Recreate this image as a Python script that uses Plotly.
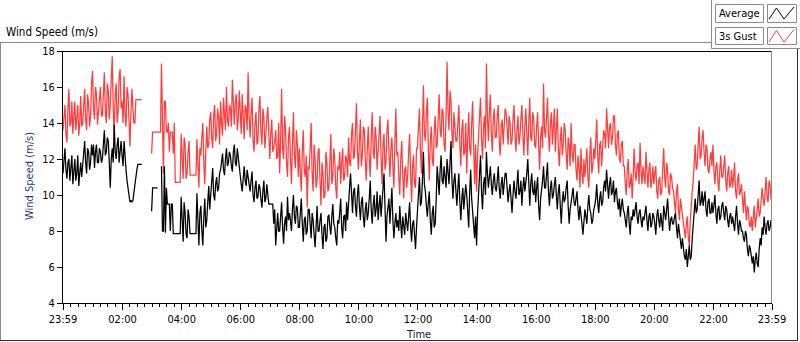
import pandas as pd
import plotly.graph_objects as go

# ---------------- data (2-minute samples) ----------------
start_time = "2013-01-01 23:59"
sample_minutes = 2

gust_values = [
    13.6, 14.6, 15.0, 13.4, 12.9, 14.8, 15.9, 13.8, 14.0, 15.2,
    13.4, 14.4, 15.2, 13.6, 14.2, 15.0, 13.3, 14.0, 15.5, 13.8,
    14.0, 15.2, 15.9, 14.2, 13.6, 15.6, 15.0, 13.8, 14.4, 16.2,
    16.9, 14.8, 14.2, 16.0, 15.6, 13.9, 14.6, 15.4, 16.0, 14.4,
    14.4, 15.6, 16.8, 14.6, 14.0, 16.2, 15.8, 14.2, 15.0, 16.4,
    17.7, 14.8, 13.3, 15.6, 16.2, 14.0, 14.6, 16.6, 17.0, 14.8,
    15.2, 14.0, 16.6, 14.4, 13.8, 16.0, 15.6, 14.2, 12.7, 14.6,
    15.9, 14.8, 14.0, 14.0, 15.3, 15.3, 15.3, 15.3, 15.3, 15.3,
    15.3, None, None, None, None, None, None, None, None, None,
    12.3, 13.5, 13.5, 13.5, 13.5, 13.5, 13.5, 13.5, 13.5, 13.5,
    17.3, 13.0, 11.2, 15.2, 15.2, 13.5, 13.5, 14.0, 12.4, 13.5,
    13.5, 13.5, 12.3, 14.0, 10.7, 10.7, 10.7, 10.7, 10.7, 10.7,
    13.4, 12.0, 10.9, 13.2, 12.8, 10.9, 11.2, 12.4, 13.0, 11.1,
    11.1, 11.1, 11.1, 11.1, 11.1, 11.1, 13.1, 11.8, 10.4, 12.6,
    12.2, 13.2, 14.0, 11.8, 10.6, 12.4, 13.8, 12.6, 12.8, 14.2,
    14.6, 13.2, 12.6, 14.4, 15.0, 13.0, 13.4, 14.8, 14.3, 12.8,
    15.2, 14.0, 13.3, 15.4, 14.6, 13.6, 16.0, 14.2, 13.8, 15.0,
    14.8, 13.8, 16.4, 14.6, 13.9, 15.2, 15.6, 13.6, 14.2, 15.8,
    14.2, 13.4, 15.6, 14.0, 13.1, 15.0, 14.8, 13.6, 16.8, 14.4,
    13.2, 14.6, 15.4, 13.0, 12.4, 14.0, 14.6, 12.8, 13.0, 14.8,
    15.5, 13.6, 12.8, 14.8, 14.3, 12.6, 13.2, 14.2, 14.9, 13.0,
    12.0, 13.4, 14.2, 12.4, 12.6, 13.0, 13.6, 12.0, 12.2, 14.0,
    11.2, 13.0, 15.9, 12.6, 12.0, 14.4, 13.7, 11.8, 11.0, 13.2,
    13.8, 12.0, 10.6, 12.8, 14.6, 12.2, 11.5, 13.6, 12.8, 11.0,
    12.6, 11.2, 10.2, 12.4, 13.6, 11.4, 11.0, 12.2, 9.3, 11.6,
    11.4, 12.6, 14.0, 11.2, 10.2, 12.8, 12.0, 10.4, 10.8, 12.4,
    12.6, 10.8, 9.4, 11.8, 11.2, 9.8, 10.0, 12.4, 11.8, 10.2,
    10.4, 11.8, 13.4, 10.6, 11.0, 12.6, 12.0, 10.4, 9.8, 11.6,
    11.4, 12.4, 10.6, 11.8, 12.6, 10.8, 11.0, 12.2, 12.0, 11.0,
    13.2, 11.8, 11.6, 13.4, 14.0, 12.0, 12.2, 13.6, 15.1, 12.4,
    11.4, 13.0, 14.2, 11.6, 12.2, 13.8, 13.6, 11.8, 10.8, 12.6,
    13.8, 12.0, 11.0, 13.2, 14.6, 12.4, 12.0, 13.8, 13.2, 11.4,
    12.2, 13.4, 14.4, 12.0, 10.6, 12.8, 13.4, 11.4, 11.8, 13.6,
    14.2, 12.4, 11.0, 12.6, 13.2, 11.6, 10.4, 12.8, 14.8, 12.2,
    12.4, 11.0, 10.0, 12.0, 13.0, 11.2, 9.8, 11.4, 11.6, 10.4,
    11.0, 12.4, 13.4, 11.2, 9.6, 11.6, 12.2, 10.6, 10.4, 12.6,
    12.6, 13.8, 14.8, 12.4, 11.2, 13.6, 16.1, 13.4, 13.0, 14.6,
    15.4, 12.6, 10.8, 13.0, 13.8, 12.0, 11.6, 13.6, 14.4, 12.6,
    12.8, 14.2, 15.6, 13.6, 13.2, 14.8, 14.6, 12.8, 12.4, 14.4,
    17.4, 14.6, 13.6, 15.8, 15.2, 13.4, 12.6, 14.6, 14.0, 13.0,
    13.0, 14.4, 15.0, 12.8, 11.6, 13.6, 14.2, 12.2, 12.4, 14.0,
    11.2, 13.2, 14.6, 12.6, 12.2, 14.0, 15.2, 12.8, 10.6, 12.8,
    10.2, 12.2, 13.6, 14.4, 15.4, 13.2, 12.0, 13.8, 14.4, 12.6,
    17.3, 14.4, 13.0, 14.6, 15.6, 13.4, 12.4, 14.2, 14.8, 13.2,
    13.2, 14.4, 15.0, 13.0, 12.2, 13.8, 14.2, 12.8, 13.6, 14.8,
    14.6, 13.4, 12.8, 14.4, 14.0, 12.8, 13.0, 14.2, 15.0, 13.4,
    12.4, 13.6, 14.4, 12.8, 13.2, 14.2, 15.0, 13.4, 12.2, 13.8,
    14.8, 13.4, 12.2, 14.0, 15.4, 13.2, 13.0, 14.6, 14.2, 12.8,
    12.6, 13.8, 14.6, 12.8, 11.4, 13.2, 13.8, 12.6, 16.2, 13.6,
    13.2, 14.2, 15.4, 13.4, 12.4, 14.0, 14.6, 12.8, 13.6, 14.8,
    12.4, 13.6, 14.8, 12.6, 11.6, 13.0, 13.8, 12.2, 12.8, 14.0,
    13.6, 12.2, 11.4, 13.2, 12.8, 11.6, 14.0, 12.4, 11.8, 12.8,
    12.8, 11.4, 10.8, 12.2, 11.6, 10.4, 12.6, 11.2, 10.6, 12.0,
    11.0, 11.8, 12.6, 11.0, 10.4, 12.2, 13.2, 11.2, 11.6, 12.6,
    12.0, 13.0, 14.2, 12.2, 11.2, 12.8, 13.0, 11.6, 12.4, 13.6,
    13.4, 12.6, 14.8, 13.2, 12.6, 13.8, 14.0, 12.8, 13.2, 14.4,
    14.4, 12.8, 12.2, 13.4, 13.6, 12.0, 11.8, 12.8, 13.0, 11.6,
    11.6, 10.6, 10.0, 11.4, 12.0, 10.4, 10.6, 11.2, 9.8, 11.0,
    12.6, 11.2, 10.8, 11.6, 11.8, 10.6, 12.9, 11.4, 10.6, 11.6,
    11.2, 10.6, 12.4, 11.0, 10.4, 11.4, 11.8, 10.4, 10.8, 11.6,
    10.6, 11.2, 11.6, 10.2, 9.8, 10.8, 11.0, 10.0, 10.2, 11.4,
    12.6, 11.0, 10.4, 11.8, 11.4, 10.2, 10.0, 11.2, 11.0, 10.4,
    10.2, 9.6, 9.0, 10.2, 10.6, 9.2, 8.6, 9.8, 9.4, 8.8,
    8.4, 8.0, 7.6, 8.4, 8.8, 7.6, 7.2, 8.6, 9.6, 10.2,
    10.8, 11.8, 12.8, 11.4, 11.6, 12.8, 13.8, 12.0, 12.2, 13.2,
    13.6, 12.4, 11.6, 12.8, 12.6, 11.4, 11.2, 12.0, 12.4, 11.6,
    12.8, 11.4, 10.6, 11.6, 11.8, 10.8, 10.2, 11.4, 12.2, 11.0,
    11.0, 11.6, 12.2, 10.8, 10.2, 11.2, 11.6, 10.4, 10.6, 11.4,
    10.4, 11.0, 11.8, 10.2, 9.8, 10.8, 11.2, 10.0, 10.2, 10.6,
    9.6, 9.0, 10.2, 9.2, 8.6, 9.4, 9.2, 8.4, 8.2, 8.8,
    8.0, 8.8, 9.4, 8.2, 8.6, 9.2, 9.8, 8.8, 9.0, 9.6,
    10.4, 9.8, 9.4, 10.2, 11.0, 9.8, 9.6, 10.8, 10.6, 9.8,
    9.6,
]

average_values = [
    11.2, 12.0, 12.6, 11.4, 10.9, 11.8, 12.0, 10.8, 11.4, 12.2,
    10.6, 11.4, 12.0, 10.8, 11.2, 12.2, 10.5, 11.2, 11.8, 11.0,
    11.6, 12.4, 13.0, 11.8, 11.2, 12.6, 12.4, 11.4, 11.8, 12.8,
    12.2, 12.8, 11.5, 12.4, 12.8, 11.8, 11.8, 12.6, 12.4, 11.8,
    12.0, 12.8, 13.6, 12.2, 12.4, 13.2, 13.0, 11.8, 10.4, 12.0,
    12.6, 11.8, 13.9, 12.4, 12.0, 12.8, 13.2, 11.8, 12.4, 13.0,
    12.2, 11.6, 13.0, 12.0, 11.4, 10.8, 10.4, 9.8, 9.6, 9.7,
    9.6, 9.7, 10.2, 10.6, 11.0, 11.4, 11.7, 11.7, 11.7, 11.7,
    11.7, None, None, None, None, None, None, None, None, None,
    9.1, 10.4, 10.4, 10.4, 10.4, 10.4, 10.4, None, None, None,
    11.6, 8.0, 8.0, 11.6, 7.9, 10.4, 9.5, 9.5, 9.5, 8.0,
    9.5, 9.5, 7.85, 7.85, 7.85, 7.85, 7.85, 7.85, 7.85, 7.85,
    9.9, 8.2, 7.4, 9.6, 9.0, 7.8, 7.6, 9.2, 8.8, 7.85,
    7.85, 7.85, 7.85, 7.85, 7.85, 7.85, 10.1, 8.4, 7.2, 9.0,
    9.4, 8.0, 7.2, 8.8, 9.8, 8.2, 8.6, 9.6, 10.5, 9.2,
    10.2, 10.8, 11.5, 10.0, 9.7, 10.6, 11.0, 10.2, 10.4, 11.2,
    11.4, 11.8, 12.3, 11.4, 11.1, 12.0, 12.6, 11.6, 11.8, 12.4,
    12.2, 11.6, 11.3, 12.4, 12.8, 11.8, 11.6, 12.6, 12.0, 11.4,
    11.2, 10.6, 10.2, 11.2, 11.6, 10.8, 10.5, 11.4, 11.0, 10.4,
    10.2, 10.8, 11.3, 10.0, 9.6, 10.4, 10.8, 9.8, 9.9, 10.6,
    10.4, 9.8, 9.3, 10.2, 10.8, 9.6, 9.8, 10.6, 10.1, 9.5,
    9.5, 9.5, 9.5, 9.5, 8.4, 9.2, 7.2, 8.2, 9.0, 8.0,
    8.0, 8.8, 9.6, 8.2, 7.3, 8.4, 8.8, 8.0, 9.9, 8.6,
    9.0, 8.6, 8.0, 9.2, 10.0, 8.8, 8.4, 9.4, 9.3, 8.2,
    8.2, 9.0, 9.8, 8.4, 7.4, 8.6, 8.8, 7.8, 8.0, 9.2,
    9.2, 8.4, 7.6, 9.0, 8.6, 7.8, 7.1, 8.2, 9.4, 8.0,
    8.0, 8.6, 9.0, 7.8, 7.0, 8.2, 8.4, 7.4, 7.6, 8.8,
    8.9, 8.2, 7.8, 8.8, 9.5, 8.4, 8.2, 7.6, 7.2, 8.6,
    8.4, 9.0, 9.8, 8.2, 7.6, 8.8, 8.9, 8.0, 9.6, 8.6,
    9.8, 10.4, 11.2, 9.6, 9.0, 10.2, 10.4, 9.4, 8.8, 10.0,
    10.6, 9.4, 8.6, 9.6, 9.9, 8.8, 8.2, 9.2, 9.6, 8.6,
    9.0, 9.8, 10.8, 9.2, 8.4, 9.4, 10.0, 8.8, 9.2, 10.2,
    8.6, 9.4, 10.0, 8.8, 9.4, 10.4, 11.2, 9.0, 7.4, 8.8,
    9.2, 9.8, 8.4, 9.4, 10.4, 8.6, 7.6, 8.4, 9.0, 8.2,
    8.6, 8.0, 9.4, 8.4, 7.6, 8.8, 8.2, 7.8, 9.0, 8.4,
    8.0, 8.8, 9.6, 8.2, 7.4, 8.4, 8.6, 7.8, 7.0, 8.2,
    9.0, 10.2, 11.0, 9.4, 9.6, 10.8, 12.4, 10.6, 10.2, 9.4,
    8.8, 9.6, 10.2, 8.6, 7.8, 9.0, 9.4, 8.2, 8.4, 9.8,
    11.6, 10.8, 10.0, 11.4, 12.2, 10.8, 10.6, 11.6, 11.0, 10.4,
    12.0, 11.0, 10.6, 11.8, 13.0, 10.8, 9.8, 10.8, 11.2, 10.2,
    9.4, 10.4, 11.2, 9.6, 8.6, 9.8, 10.4, 9.2, 9.8, 10.6,
    10.0, 9.2, 8.2, 10.2, 11.4, 9.8, 9.0, 8.4, 7.6, 8.8,
    7.2, 9.0, 10.4, 11.4, 12.2, 10.2, 9.2, 10.6, 11.0, 10.0,
    12.4, 11.2, 10.4, 11.0, 11.6, 10.6, 10.0, 10.8, 11.2, 10.4,
    10.2, 10.8, 11.6, 10.4, 9.8, 10.6, 11.0, 10.0, 10.6, 11.2,
    11.2, 10.4, 9.6, 10.2, 10.6, 9.8, 9.0, 10.0, 10.8, 10.2,
    9.8, 10.6, 11.4, 10.0, 10.2, 10.8, 9.4, 10.4, 11.0, 10.2,
    10.6, 11.2, 12.0, 10.4, 9.4, 10.6, 11.2, 10.2, 10.0, 10.8,
    9.6, 10.4, 11.0, 9.4, 8.6, 9.8, 10.2, 10.8, 11.6, 10.4,
    10.4, 11.0, 11.8, 10.2, 9.4, 10.4, 10.8, 9.8, 10.0, 10.6,
    11.0, 10.0, 9.2, 10.2, 10.6, 9.4, 8.4, 9.6, 10.2, 9.6,
    9.8, 10.4, 10.8, 9.4, 8.4, 9.2, 9.6, 10.0, 10.4, 9.6,
    9.4, 9.8, 10.2, 9.2, 8.6, 9.4, 9.0, 8.4, 7.8, 8.8,
    9.2, 8.8, 8.4, 9.4, 10.0, 9.2, 9.0, 8.4, 8.6, 9.2,
    9.4, 9.8, 10.6, 9.6, 9.0, 9.8, 10.2, 9.4, 9.6, 10.4,
    10.8, 10.2, 11.4, 10.6, 9.8, 10.6, 11.0, 10.0, 10.2, 10.8,
    9.6, 10.2, 10.4, 9.6, 9.2, 9.8, 8.8, 9.4, 9.8, 9.2,
    9.0, 8.6, 8.2, 9.0, 9.4, 8.4, 7.8, 8.8, 8.6, 9.2,
    8.8, 9.2, 9.6, 8.8, 8.4, 9.0, 9.2, 8.6, 8.2, 8.8,
    8.6, 9.0, 9.4, 8.6, 8.0, 8.8, 9.0, 8.2, 8.4, 9.0,
    8.8, 8.4, 7.8, 8.8, 9.2, 8.6, 8.2, 9.0, 8.6, 8.0,
    9.4, 8.8, 8.6, 9.2, 9.8, 8.8, 8.0, 8.6, 8.8, 8.4,
    8.4, 8.8, 9.0, 8.2, 7.6, 8.4, 8.0, 7.4, 7.0, 7.6,
    7.0, 6.6, 6.4, 7.0, 6.0, 6.8, 7.2, 6.4, 6.6, 7.6,
    8.4, 9.2, 9.8, 9.0, 9.2, 10.0, 10.8, 9.4, 9.6, 10.2,
    9.4, 9.8, 10.2, 9.2, 8.8, 9.6, 9.8, 9.0, 9.0, 9.6,
    9.0, 9.4, 10.0, 9.0, 8.4, 9.2, 9.4, 8.6, 8.8, 9.4,
    9.6, 9.0, 8.6, 9.4, 9.2, 8.6, 8.2, 8.8, 9.0, 8.4,
    8.8, 8.4, 8.0, 8.8, 9.4, 8.4, 7.8, 8.6, 8.4, 8.0,
    8.0, 7.6, 7.4, 8.0, 7.8, 7.0, 6.6, 7.2, 7.0, 6.6,
    6.2, 6.6, 5.7, 6.4, 6.8, 6.2, 6.0, 7.0, 7.6, 7.2,
    8.2, 7.8, 8.8, 8.2, 7.8, 8.4, 8.6, 8.0, 8.2, 8.6,
    8.0,
]

tick_times = ["2013-01-01 23:59", "2013-01-02 02:00", "2013-01-02 04:00", "2013-01-02 06:00",
              "2013-01-02 08:00", "2013-01-02 10:00", "2013-01-02 12:00", "2013-01-02 14:00",
              "2013-01-02 16:00", "2013-01-02 18:00", "2013-01-02 20:00", "2013-01-02 22:00",
              "2013-01-02 23:59"]
tick_labels = ["23:59", "02:00", "04:00", "06:00", "08:00", "10:00", "12:00", "14:00",
               "16:00", "18:00", "20:00", "22:00", "23:59"]
y_ticks = [4, 6, 8, 10, 12, 14, 16, 18]

times = pd.date_range(start=start_time, periods=len(gust_values), freq=f"{sample_minutes}min")

# ---------------- layout geometry (pixels) ----------------
W, H = 800, 342
L, R, T, B = 63, 28, 51, 39
PW, PH = W - L - R, H - T - B

def px(x):
    return (x - L) / PW

def py(y):
    return (H - B - y) / PH

FONT = "Tahoma, 'DejaVu Sans Condensed', 'Liberation Sans', sans-serif"

fig = go.Figure()
fig.add_trace(go.Scatter(x=times, y=gust_values, mode="lines", name="3s Gust",
                         line=dict(color="#ff3c3c", width=1.25),
                         connectgaps=False, showlegend=False))
fig.add_trace(go.Scatter(x=times, y=average_values, mode="lines", name="Average",
                         line=dict(color="#000000", width=1.25),
                         connectgaps=False, showlegend=False))

fig.update_layout(
    width=W, height=H,
    margin=dict(l=L, r=R, t=T, b=B, pad=0),
    paper_bgcolor="white", plot_bgcolor="white",
    font=dict(family=FONT, size=11, color="#000000"),
    showlegend=False,
)
fig.update_xaxes(
    type="date", range=[tick_times[0], tick_times[-1]],
    tickmode="array", tickvals=tick_times, ticktext=tick_labels,
    ticks="outside", ticklen=6, tickcolor="black", tickwidth=1,
    showline=True, linecolor="black", linewidth=1,
    showgrid=False, zeroline=False,
    minor=dict(ticks="outside", ticklen=3, tickcolor="black", tickwidth=1,
               dtick=15 * 60 * 1000, tick0="2013-01-02 00:00", showgrid=False),
    tickfont=dict(size=11, color="#000000"),
)
fig.update_yaxes(
    range=[4, 18], tickmode="array", tickvals=y_ticks,
    ticks="outside", ticklen=5, tickcolor="black", tickwidth=1,
    showline=True, linecolor="black", linewidth=1,
    showgrid=False, zeroline=False,
    tickfont=dict(size=11, color="#000000"),
)

gray = "#8a8a8a"
shapes = []
def line(x0, y0, x1, y1, color, width=1):
    shapes.append(dict(type="line", xref="paper", yref="paper",
                       x0=px(x0), y0=py(y0), x1=px(x1), y1=py(y1),
                       line=dict(color=color, width=width)))

def rect(x0, y0, x1, y1, color):
    shapes.append(dict(type="rect", xref="paper", yref="paper",
                       x0=px(x0), y0=py(y0), x1=px(x1), y1=py(y1),
                       line=dict(color=color, width=1), fillcolor="white"))

# outer frame
line(0, 42.5, 711.5, 42.5, gray)
line(0.5, 42, 0.5, 341, gray)
line(0, 340.5, 798, 340.5, "#303030")
line(797.5, 48.5, 797.5, 341, "#303030")
# legend area frame
line(711.5, 0, 711.5, 48.5, gray)
line(711.5, 48.5, 800, 48.5, gray)
# plot area top / right
line(63, 51.5, 772, 51.5, "black")
line(771.5, 51, 771.5, 303, gray)
# legend boxes
rect(715.5, 4.5, 763.5, 22.5, gray)
rect(767.5, 4.5, 796.5, 22.5, gray)
rect(715.5, 27.5, 763.5, 44.5, gray)
rect(767.5, 27.5, 796.5, 44.5, gray)

def zig(pts, color):
    d = "M " + " L ".join(f"{px(x)} {py(y)}" for x, y in pts)
    shapes.append(dict(type="path", xref="paper", yref="paper", path=d,
                       line=dict(color=color, width=1)))

zig([(769, 19), (776.5, 8), (784, 19), (794, 7)], "black")
zig([(769, 42), (776.5, 30.5), (784, 42), (794, 29.5)], "#ff3c3c")
fig.update_layout(shapes=shapes)

ann = []
def text(x, y, s, xanchor="left", color="#000000", angle=0, size=11):
    ann.append(dict(x=px(x), y=py(y), xref="paper", yref="paper", text=s,
                    showarrow=False, xanchor=xanchor, yanchor="middle",
                    textangle=angle, font=dict(family=FONT, size=size, color=color)))

text(4, 32, "Wind Speed (m/s)", size=11.5)
text(717, 13.5, "Average")
text(717, 36, "3s Gust")
text(29, 176, "Wind Speed (m/s)", xanchor="center", color="#1c3a78", angle=-90)
text(418, 334, "Time", xanchor="center", color="#101830")
fig.update_layout(annotations=ann)

fig.write_html("out.html", config={"displayModeBar": False},
               post_script="document.body.style.margin='0';")
